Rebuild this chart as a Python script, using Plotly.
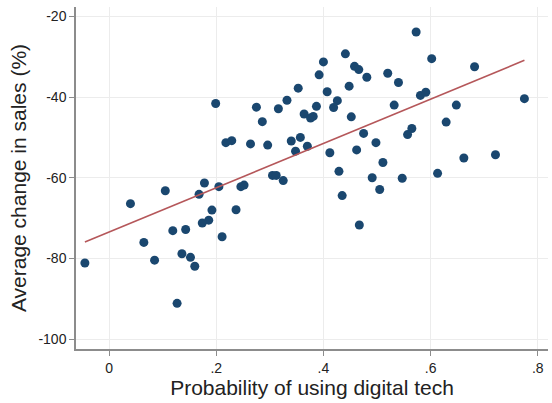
import plotly.graph_objects as go

# Probability of using digital tech (x) and average change in sales (%) (y)
prob_digital = [
    0.199, 0.275, 0.286, 0.218, 0.229, 0.264, 0.296, 0.316, 0.332, 0.353,
    0.364, 0.376, 0.381, 0.340, 0.357, 0.348, 0.370, 0.305, 0.312, 0.325,
    0.246, 0.252, 0.205, 0.178, 0.168, 0.105, 0.040, 0.192, 0.237, 0.186,
    0.174, 0.119, 0.143, 0.211, 0.065, 0.136, 0.152, 0.085, 0.160, -0.045,
    0.127, 0.400, 0.441, 0.458, 0.466, 0.481, 0.392, 0.407, 0.448, 0.426,
    0.419, 0.387, 0.452, 0.520, 0.540, 0.573, 0.602, 0.581, 0.591, 0.532,
    0.682, 0.648, 0.629, 0.775, 0.565, 0.557, 0.475, 0.498, 0.412, 0.462,
    0.511, 0.662, 0.721, 0.429, 0.491, 0.547, 0.613, 0.505, 0.435, 0.467,
]
sales_change = [
    -41.6, -42.5, -46.1, -51.3, -50.8, -51.6, -51.9, -42.9, -40.8, -37.8,
    -44.2, -45.2, -44.8, -50.9, -50.0, -53.4, -52.2, -59.4, -59.4, -60.7,
    -62.2, -61.8, -62.2, -61.3, -64.1, -63.2, -66.4, -68.0, -67.9, -70.5,
    -71.2, -73.1, -72.8, -74.6, -76.0, -78.8, -79.7, -80.4, -81.9, -81.1,
    -91.1, -31.3, -29.3, -32.4, -33.2, -35.1, -34.5, -38.7, -37.3, -40.9,
    -42.6, -42.3, -44.9, -34.1, -36.4, -23.9, -30.5, -39.6, -38.8, -42.0,
    -32.5, -42.0, -46.2, -40.4, -47.8, -49.3, -49.0, -51.3, -53.8, -53.1,
    -56.2, -55.1, -54.3, -58.4, -60.0, -60.1, -58.9, -62.9, -64.4, -71.7,
]
# Fitted line end points
fit_x = [-0.045, 0.775]
fit_y = [-75.9, -30.9]

x_ticks = [0, 0.2, 0.4, 0.6, 0.8]
x_ticklabels = ["0", ".2", ".4", ".6", ".8"]
y_ticks = [-100, -80, -60, -40, -20]
y_ticklabels = ["-100", "-80", "-60", "-40", "-20"]

fig = go.Figure()
fig.add_trace(go.Scatter(
    x=prob_digital, y=sales_change, mode="markers",
    marker=dict(color="#1a476f", size=9, line=dict(width=0)),
    showlegend=False,
))
fig.add_trace(go.Scatter(
    x=fit_x, y=fit_y, mode="lines",
    line=dict(color="#b5575a", width=1.6),
    showlegend=False,
))

font_family = "Liberation Sans, Arial, sans-serif"
fig.update_layout(
    width=552, height=403,
    margin=dict(l=76, r=4, t=7, b=54),
    paper_bgcolor="white", plot_bgcolor="white",
    font=dict(family=font_family, color="#222222"),
    xaxis=dict(
        range=[-0.0616, 0.819],
        tickvals=x_ticks, ticktext=x_ticklabels,
        showgrid=True, gridcolor="#ececec", gridwidth=1,
        zeroline=False,
        showline=True, linecolor="#8c8c8c", linewidth=1.5,
        ticks="outside", ticklen=5, tickcolor="#8c8c8c", tickwidth=1,
        tickfont=dict(size=14, color="#222222"),
        title=dict(text="Probability of using digital tech",
                   font=dict(size=21, color="#222222"), standoff=3),
        automargin=False,
    ),
    yaxis=dict(
        range=[-102.4, -17.7],
        tickvals=y_ticks, ticktext=y_ticklabels,
        showgrid=True, gridcolor="#ececec", gridwidth=1,
        zeroline=False,
        showline=True, linecolor="#8c8c8c", linewidth=1.5,
        ticks="outside", ticklen=5, tickcolor="#8c8c8c", tickwidth=1,
        tickfont=dict(size=14, color="#222222"),
        title=dict(text="Average change in sales (%)",
                   font=dict(size=21, color="#222222"), standoff=6),
        automargin=False,
    ),
)

fig.write_html("out.html")
